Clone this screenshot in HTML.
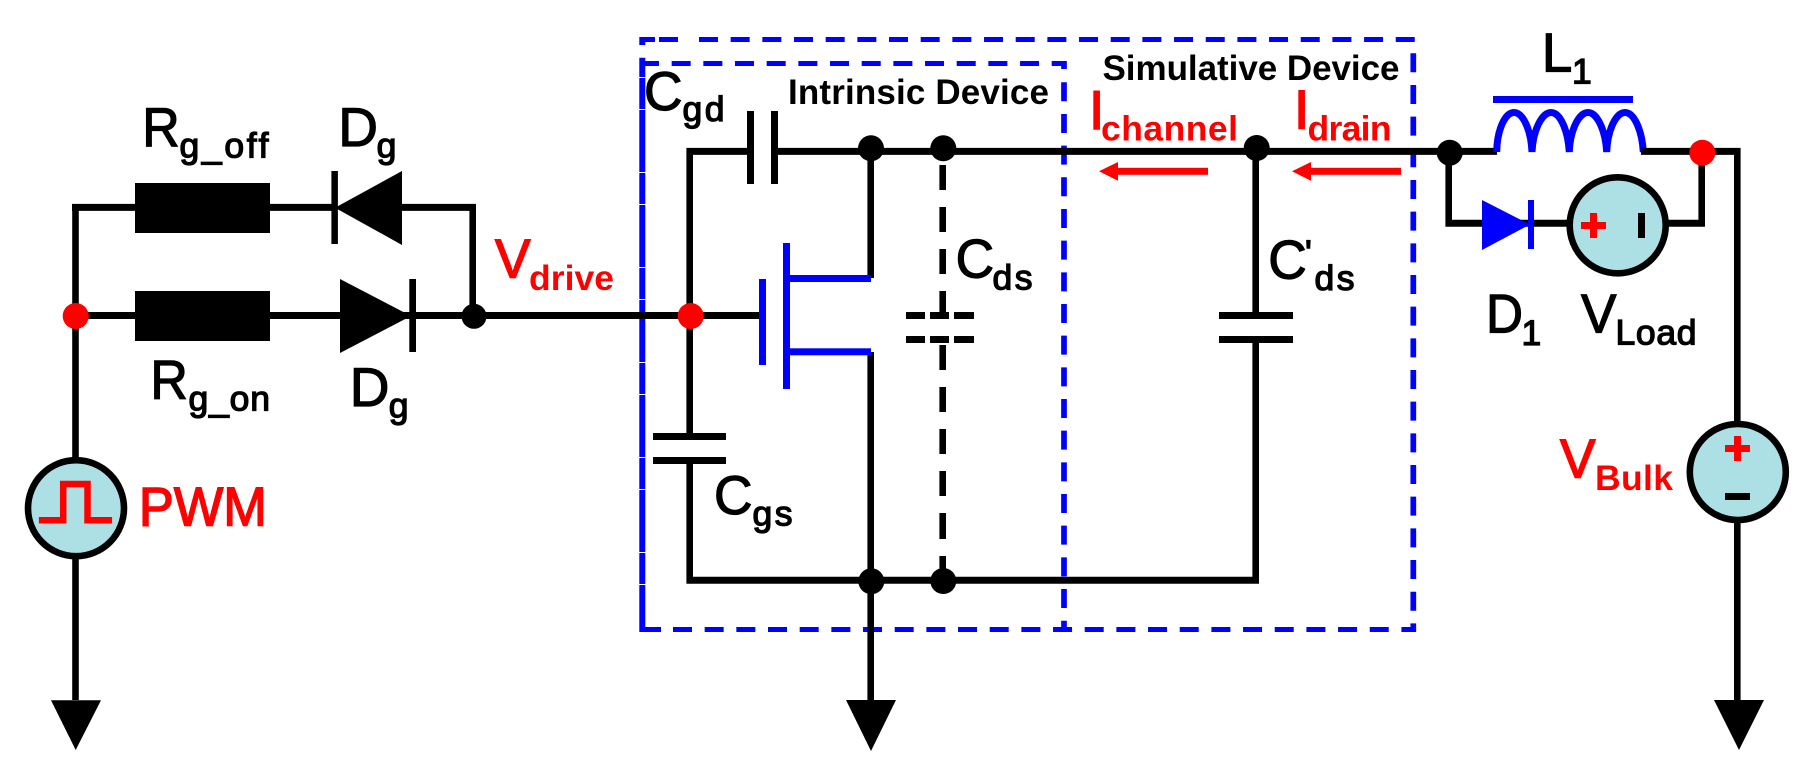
<!DOCTYPE html>
<html><head><meta charset="utf-8"><style>
html,body{margin:0;padding:0;background:#fff;width:1808px;height:783px;overflow:hidden}
svg{display:block}
text{font-family:"Liberation Sans",Arial,sans-serif}
.m{font-size:55px;fill:#000;stroke:#000;stroke-width:1.2}
.s{font-size:35.5px;fill:#000;stroke:#000;stroke-width:1.3}
.b{font-size:35px;font-weight:bold;fill:#000}
.rm{font-size:55px;fill:#f00;stroke:#f00;stroke-width:1.5}
.rs{font-size:35.5px;font-weight:bold;fill:#f00}
.w{fill:none;stroke:#000;stroke-width:6.6}
.h{fill:none;stroke:#000;stroke-width:7}
</style></head><body>
<svg width="1808" height="783" viewBox="0 0 1808 783" xmlns="http://www.w3.org/2000/svg">
<rect width="1808" height="783" fill="#fff"/>

<!-- blue dashed boxes -->
<g fill="none" stroke="#00f">
  <path d="M642.3 57.7V632" stroke-width="6"/>
  <path d="M642.3 37V45" stroke-width="6"/>
  <path d="M640 39.5H655M659 39.5H678" stroke-width="5"/>
  <path d="M699 39.5H1415" stroke-width="5" stroke-dasharray="19 12.67"/>
  <path d="M640 63.5H1066.5" stroke-width="5" stroke-dasharray="19 12.67"/>
  <path d="M1064 61V69" stroke-width="5.7"/>
  <path d="M640 629.5H661" stroke-width="5"/>
  <path d="M673 629.5H1415" stroke-width="5" stroke-dasharray="19 12.67"/>
  <path d="M1064 82.3V632" stroke-width="5.7" stroke-dasharray="19 12.67"/>
  <path d="M1413.3 53.3V632" stroke-width="5.7" stroke-dasharray="19 12.67"/>
</g>
<g fill="#fff">
  <rect x="639" y="77" width="7" height="1"/><rect x="639" y="109" width="7" height="1"/>
  <rect x="639" y="172" width="7" height="1"/><rect x="639" y="204" width="7" height="1"/>
  <rect x="639" y="267" width="7" height="1"/><rect x="639" y="299" width="7" height="1"/>
  <rect x="639" y="362" width="7" height="1"/><rect x="639" y="394" width="7" height="1"/>
  <rect x="639" y="457" width="7" height="1"/><rect x="639" y="489" width="7" height="1"/>
  <rect x="639" y="552" width="7" height="1"/><rect x="639" y="584" width="7" height="1"/>
</g>

<!-- left gate network -->
<path class="w" d="M75.5 316V204"/>
<path class="h" d="M72 207.4H335M400 207.4H476"/>
<path class="w" d="M472.7 204V316"/>
<path class="h" d="M75 315.5H760"/>
<rect x="135" y="183" width="135" height="50" fill="#000"/>
<rect x="135" y="291" width="135" height="50" fill="#000"/>
<rect x="331.4" y="171" width="6.5" height="73"/>
<polygon points="402,171 402,245 335,207.7"/>
<polygon points="340,279 340,353 411,316"/>
<rect x="409.3" y="279" width="6.7" height="73"/>
<circle cx="474" cy="316.3" r="12.5"/>

<!-- PWM source -->
<path class="w" d="M75.5 316V700"/>
<circle cx="76" cy="508.2" r="48" fill="#ace0e4" stroke="#000" stroke-width="6.6"/>
<path d="M38.9 520.3H63.2V484H87.5V520.3H112.1" fill="none" stroke="#f00" stroke-width="6.5"/>
<polygon points="51,700.3 101,700.3 75.7,750"/>
<circle cx="75.7" cy="316" r="13" fill="#f00"/>

<!-- top and bottom rails -->
<path class="h" d="M686.5 151.4H750.5M774.5 151.4H1497"/>
<path class="w" d="M689.7 148V436M689.7 460V583"/>
<path class="h" d="M686.5 580.3H1259"/>
<path class="w" d="M870.7 151V278M870.7 352V700"/>
<path class="w" d="M1255.7 151V315.5M1255.7 339.5V583"/>

<!-- capacitors -->
<path d="M750.5 111V184M774.5 111V184" stroke="#000" stroke-width="7" fill="none"/>
<path d="M653 436.5H726M653 460.5H726" stroke="#000" stroke-width="7" fill="none"/>
<path d="M1219 315.5H1293M1219 339.5H1293" stroke="#000" stroke-width="7" fill="none"/>

<!-- Cds dashed -->
<path class="w" d="M942.7 165V190M942.7 207V232M942.7 249V274M942.7 291V315M942.7 345V370M942.7 387V412M942.7 429V454M942.7 471V496M942.7 513V539M942.7 556V581"/>
<path d="M906 315.5H925M930 315.5H949M954 315.5H974M906 339.5H925M930 339.5H949M954 339.5H974" stroke="#000" stroke-width="7" fill="none"/>

<!-- MOSFET -->
<g fill="#00f">
  <rect x="759" y="279" width="7" height="86"/>
  <rect x="783" y="243" width="7" height="146"/>
  <rect x="790" y="275" width="81" height="7"/>
  <rect x="790" y="348.3" width="81" height="7"/>
</g>

<!-- dots -->
<circle cx="871" cy="148.3" r="13"/><circle cx="943.3" cy="148.3" r="13"/>
<circle cx="1256.7" cy="148" r="13"/><circle cx="1449.7" cy="152.7" r="13"/>
<circle cx="871.3" cy="581.3" r="13"/><circle cx="943.3" cy="581" r="13"/>
<circle cx="690.7" cy="316" r="13" fill="#f00"/>

<!-- ground middle -->
<polygon points="846,700 896,700 871,751"/>

<!-- red current arrows -->
<g fill="#f00">
  <rect x="1116" y="167.8" width="92" height="7"/>
  <polygon points="1099,171.3 1118,162 1118,180.7"/>
  <rect x="1309" y="167.8" width="92" height="7"/>
  <polygon points="1292,171.3 1311,162 1311,180.7"/>
</g>

<!-- inductor -->
<rect x="1493" y="96" width="140" height="7" fill="#00f"/>
<path d="M1496.7 152C1497 130 1505 112.5 1514 112.5C1523 112.5 1531 130 1532 152C1533 130 1542 112.5 1551 112.5C1560 112.5 1568 130 1569.3 152C1570 130 1579 112.5 1588 112.5C1597 112.5 1605.5 130 1606.7 152C1607.5 130 1616 112.5 1625 112.5C1634 112.5 1642 130 1643.3 152" fill="none" stroke="#00f" stroke-width="7"/>
<path class="h" d="M1641 151.4H1740.5"/>
<path class="w" d="M1737.3 148V700"/>
<polygon points="1714,700 1764,700 1739,750"/>

<!-- diode + VLoad branch -->
<path class="w" d="M1448.7 152V226.5"/>
<path class="w" d="M1701.7 152V226.5"/>
<path class="h" d="M1445.5 223.3H1704.9"/>
<polygon points="1482,200 1482,250 1530,224.5" fill="#00f"/>
<rect x="1528" y="200" width="6" height="49" fill="#00f"/>
<circle cx="1617.7" cy="225.3" r="48" fill="#ace0e4" stroke="#000" stroke-width="6.6"/>
<path d="M1581 225.5H1606M1593.5 213V238" stroke="#f00" stroke-width="7" fill="none"/>
<rect x="1638" y="213" width="7" height="25"/>
<circle cx="1702.3" cy="152.7" r="13" fill="#f00"/>

<!-- VBulk -->
<circle cx="1737.8" cy="472" r="48" fill="#ace0e4" stroke="#000" stroke-width="6.6"/>
<path d="M1725 448.5H1750M1737.5 436V461" stroke="#f00" stroke-width="7" fill="none"/>
<rect x="1725" y="493" width="25" height="7"/>

<!-- labels -->
<text class="m" x="142.2" y="146" textLength="37.5" lengthAdjust="spacingAndGlyphs">R</text>
<text class="s" x="179.5" y="157.7" textLength="89" lengthAdjust="spacing">g_off</text>
<text class="m" x="338.3" y="146">D</text>
<text class="s" x="376.6" y="157.7">g</text>

<text class="m" x="150.4" y="398.7" textLength="37.5" lengthAdjust="spacingAndGlyphs">R</text>
<text class="s" x="188.5" y="410.7" textLength="81.5" lengthAdjust="spacing">g_on</text>
<text class="m" x="349.7" y="406">D</text>
<text class="s" x="388.7" y="417.7">g</text>

<text class="rm" x="138.9" y="525.7" textLength="128" lengthAdjust="spacingAndGlyphs">PWM</text>

<text class="rm" x="495" y="277.7" textLength="35.5" lengthAdjust="spacingAndGlyphs">V</text>
<text class="rs" x="529" y="290" textLength="85" lengthAdjust="spacing">drive</text>

<text class="m" x="644" y="110" textLength="38.5" lengthAdjust="spacingAndGlyphs">C</text>
<text class="s" x="682.5" y="121" textLength="42" lengthAdjust="spacing">gd</text>

<text class="b" x="788" y="104" textLength="261" lengthAdjust="spacing">Intrinsic Device</text>
<text class="b" x="1102.5" y="80" textLength="297" lengthAdjust="spacing">Simulative Device</text>

<text class="rm" x="1089" y="129">I</text>
<text class="rs" x="1101" y="140.7" textLength="137" lengthAdjust="spacing">channel</text>
<text class="rm" x="1294" y="128.7">I</text>
<text class="rs" x="1307.5" y="140.7" textLength="84" lengthAdjust="spacing">drain</text>

<text class="m" x="955.6" y="277.7" textLength="38.5" lengthAdjust="spacingAndGlyphs">C</text>
<text class="s" x="992.5" y="289.3" textLength="40" lengthAdjust="spacing">ds</text>

<text class="m" x="1268.3" y="278.3" textLength="38.5" lengthAdjust="spacingAndGlyphs">C</text>
<text class="s" x="1305" y="265">'</text>
<text class="s" x="1314.5" y="290" textLength="40" lengthAdjust="spacing">ds</text>

<text class="m" x="714" y="514" textLength="38.5" lengthAdjust="spacingAndGlyphs">C</text>
<text class="s" x="752.5" y="525.7" textLength="40" lengthAdjust="spacing">gs</text>

<text class="m" x="1541.8" y="71.7">L</text>
<text class="s" x="1572" y="83.3">1</text>

<text class="m" x="1486" y="332.7" textLength="37" lengthAdjust="spacingAndGlyphs">D</text>
<text class="s" x="1521.5" y="345">1</text>

<text class="m" x="1581" y="332.7" textLength="35.5" lengthAdjust="spacingAndGlyphs">V</text>
<text class="s" x="1615.5" y="344.3" textLength="81" lengthAdjust="spacing">Load</text>

<text class="rm" x="1560" y="477.7" textLength="35.5" lengthAdjust="spacingAndGlyphs">V</text>
<text class="rs" x="1595" y="490" textLength="78" lengthAdjust="spacing">Bulk</text>
</svg>
</body></html>
